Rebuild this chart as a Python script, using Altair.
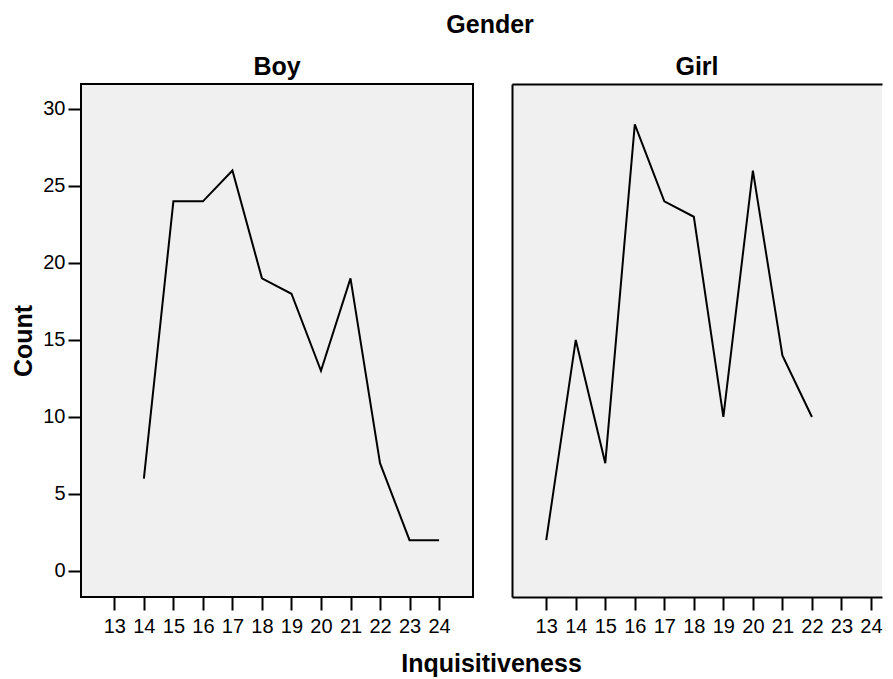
import altair as alt
import pandas as pd

# Data
boy_scores = [14, 15, 16, 17, 18, 19, 20, 21, 22, 23, 24]
boy_counts = [6, 24, 24, 26, 19, 18, 13, 19, 7, 2, 2]
girl_scores = [13, 14, 15, 16, 17, 18, 19, 20, 21, 22]
girl_counts = [2, 15, 7, 29, 24, 23, 10, 26, 14, 10]
x_ticks = list(range(13, 25))
y_ticks = [0, 5, 10, 15, 20, 25, 30]

boy_df = pd.DataFrame({"Inquisitiveness": boy_scores, "Count": boy_counts})
girl_df = pd.DataFrame({"Inquisitiveness": girl_scores, "Count": girl_counts})

FONT = "Liberation Sans"
BG = "#f0f0f0"
W_LEFT, W_RIGHT, H = 392, 370, 513
Y_DOMAIN = [-1.69, 31.62]

line_kw = dict(color="black", strokeWidth=2, strokeJoin="miter")
title_kw = dict(fontSize=25, font=FONT, fontWeight="bold", color="black")
lab_kw = dict(labelFont=FONT, labelFontSize=20, labelColor="black",
              tickColor="black", tickWidth=2, tickSize=13, grid=False)

y_scale = alt.Scale(domain=Y_DOMAIN, nice=False, zero=False)

# ---- Boy panel ----
left = alt.Chart(boy_df).mark_line(**line_kw).encode(
    x=alt.X("Inquisitiveness:Q",
            scale=alt.Scale(domain=[11.87, 25.15], nice=False, zero=False),
            axis=alt.Axis(values=x_ticks, format="d", domain=False, labelPadding=6,
                          labelFlush=False, title="Inquisitiveness",
                          titleFont=FONT, titleFontSize=25, titleFontWeight="bold",
                          titleColor="black", titleX=410, titleY=74,
                          titleBaseline="alphabetic", titleAlign="center", **lab_kw)),
    y=alt.Y("Count:Q", scale=y_scale,
            axis=alt.Axis(values=y_ticks, format="d", domain=False, labelPadding=3,
                          title="Count", titleFont=FONT, titleFontSize=25,
                          titleFontWeight="bold", titleColor="black",
                          titleX=-50, titleY=H / 2, titleBaseline="alphabetic",
                          titleAlign="center", titleAngle=270, **lab_kw)),
).properties(
    width=W_LEFT, height=H,
    title=alt.TitleParams("Boy", offset=4, **title_kw),
    view=alt.ViewBackground(fill=BG, stroke="black", strokeWidth=2),
)

# ---- Girl panel (right edge runs off the page, so no right border) ----
rx_scale = alt.Scale(domain=[11.84, 11.84 + W_RIGHT / 29.52], nice=False, zero=False)
girl_line = alt.Chart(girl_df).mark_line(**line_kw).encode(
    x=alt.X("Inquisitiveness:Q", scale=rx_scale,
            axis=alt.Axis(values=x_ticks, format="d", domain=True, domainColor="black",
                          domainWidth=2, labelPadding=6, labelFlush=False, title=None,
                          **lab_kw)),
    y=alt.Y("Count:Q", scale=y_scale,
            axis=alt.Axis(domain=True, domainColor="black", domainWidth=2,
                          ticks=False, labels=False, title=None, grid=False)),
)
girl_top = alt.Chart(girl_df).mark_line(opacity=0).encode(
    x=alt.X("Inquisitiveness:Q", scale=rx_scale,
            axis=alt.Axis(orient="top", domain=True, domainColor="black", domainWidth=2,
                          ticks=False, labels=False, title=None, grid=False)),
    y=alt.Y("Count:Q", scale=y_scale),
)
right = alt.layer(girl_line, girl_top).resolve_axis(x="independent").properties(
    width=W_RIGHT, height=H,
    title=alt.TitleParams("Girl", offset=4, **title_kw),
    view=alt.ViewBackground(fill=BG, stroke=None),
)

chart = alt.hconcat(left, right, spacing=39, bounds="flush").properties(
    title=alt.TitleParams("Gender", anchor="middle", dx=44, offset=16, **title_kw),
    padding={"left": 2, "top": 5, "right": 2, "bottom": 0},
).configure_view(strokeWidth=0)

chart.save("out.html", embed_options={"renderer": "svg", "actions": False})
